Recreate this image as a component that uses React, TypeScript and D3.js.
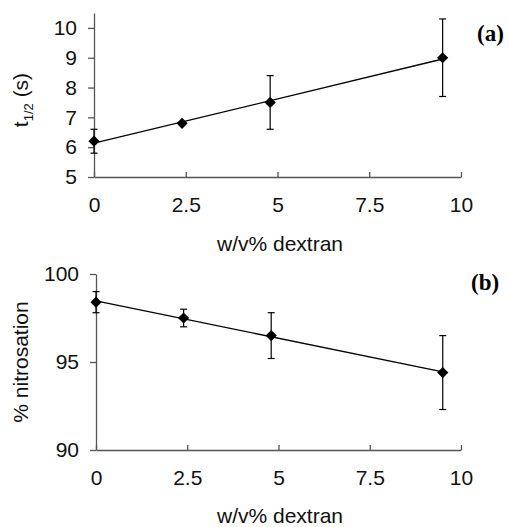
import React, { useEffect, useRef } from "react";
import * as d3 from "d3";

// dextran concentration (w/v %)
const dextran = [0, 2.4, 4.8, 9.5];

// panel (a) half-life
const halfLife = [6.2, 6.8, 7.5, 9.0];
const halfLifeErr = [0.4, 0, 0.9, 1.3];

// panel (b) nitrosation
const nitrosation = [98.4, 97.5, 96.5, 94.4];
const nitrosationErr = [0.6, 0.5, 1.3, 2.1];

const xTicks = [0, 2.5, 5, 7.5, 10];
const yTicksA = [5, 6, 7, 8, 9, 10];
const yTicksB = [90, 95, 100];

const App = () => {
  const ref = useRef<SVGSVGElement>(null);

  useEffect(() => {
    drawChart();
  }, []);

  const drawChart = () => {
    const svg = d3.select(ref.current);
    svg.selectAll("*").remove();

    const font = "Arial, 'Liberation Sans', sans-serif";
    const fs = 21;

    const panel = (opts: {
      xs: number[]; ys: number[]; errs: number[];
      yDomain: [number, number]; yTicks: number[];
      left: number; right: number; top: number; bottom: number;
      yLabel: (g: any) => void; tag: string; tagX: number; tagY: number; titleY: number;
    }) => {
      const x = d3.scaleLinear().domain([0, 10]).range([opts.left, opts.right]);
      const y = d3.scaleLinear().domain(opts.yDomain).range([opts.bottom, opts.top]);
      const g = svg.append("g");

      // axes
      const xa = g.append("g")
        .attr("transform", `translate(0,${opts.bottom})`)
        .call(d3.axisBottom(x).tickValues(xTicks).tickFormat(d3.format("")).tickSizeInner(-5).tickSizeOuter(0).tickPadding(20));
      xa.select(".domain").attr("stroke", "#555").attr("stroke-width", 1.3);
      xa.selectAll("line").attr("stroke", "#555").attr("stroke-width", 1.3);
      xa.selectAll("text").attr("font-size", fs).attr("font-family", font).attr("fill", "#111");

      const ya = g.append("g")
        .attr("transform", `translate(${opts.left},0)`)
        .call(d3.axisLeft(y).tickValues(opts.yTicks).tickFormat(d3.format("")).tickSizeInner(6).tickSizeOuter(0).tickPadding(11));
      ya.select(".domain").attr("stroke", "#555").attr("stroke-width", 1.3);
      ya.selectAll("line").attr("stroke", "#555").attr("stroke-width", 1.3);
      ya.selectAll("text").attr("font-size", fs).attr("font-family", font).attr("fill", "#111");

      // trend line (least squares)
      const mx = d3.mean(opts.xs)!;
      const my = d3.mean(opts.ys)!;
      const slope = d3.sum(opts.xs, (v, i) => (v - mx) * (opts.ys[i] - my)) /
        d3.sum(opts.xs, (v) => (v - mx) * (v - mx));
      const b = my - slope * mx;
      const ext = d3.extent(opts.xs) as [number, number];
      g.append("line")
        .attr("x1", x(ext[0])).attr("y1", y(b + slope * ext[0]))
        .attr("x2", x(ext[1])).attr("y2", y(b + slope * ext[1]))
        .attr("stroke", "#000").attr("stroke-width", 1.3);

      // error bars
      opts.xs.forEach((v, i) => {
        const e = opts.errs[i];
        if (!e) return;
        const cx = x(v);
        const y1 = y(opts.ys[i] + e);
        const y2 = y(opts.ys[i] - e);
        g.append("line").attr("x1", cx).attr("x2", cx).attr("y1", y1).attr("y2", y2)
          .attr("stroke", "#000").attr("stroke-width", 1.2);
        [y1, y2].forEach((yy) => {
          g.append("line").attr("x1", cx - 3.5).attr("x2", cx + 3.5).attr("y1", yy).attr("y2", yy)
            .attr("stroke", "#000").attr("stroke-width", 1.2);
        });
      });

      // diamonds
      g.selectAll("path.pt")
        .data(opts.xs)
        .enter()
        .append("path")
        .attr("class", "pt")
        .attr("d", d3.symbol().type(d3.symbolDiamond2).size(80))
        .attr("transform", (d, i) => `translate(${x(d)},${y(opts.ys[i])})`)
        .attr("fill", "#000");

      // x title
      g.append("text")
        .attr("x", 280)
        .attr("y", opts.titleY)
        .attr("text-anchor", "middle")
        .attr("font-size", fs).attr("font-family", font).attr("fill", "#111")
        .text("w/v% dextran");

      opts.yLabel(g);

      g.append("text")
        .attr("x", opts.tagX).attr("y", opts.tagY)
        .attr("font-size", 23).attr("font-weight", "bold")
        .attr("font-family", "'Liberation Serif', 'Times New Roman', serif")
        .text(opts.tag);
    };

    panel({
      xs: dextran, ys: halfLife, errs: halfLifeErr,
      yDomain: [5, 10.5], yTicks: yTicksA,
      left: 94, right: 461, top: 13, bottom: 177,
      tag: "(a)", tagX: 477, tagY: 41, titleY: 251,
      yLabel: (g) => {
        const t = g.append("text")
          .attr("transform", "translate(28,100) rotate(-90)")
          .attr("text-anchor", "middle")
          .attr("font-size", fs).attr("font-family", font).attr("fill", "#111");
        t.append("tspan").text("t");
        t.append("tspan").attr("font-size", 13).attr("dy", 5).text("1/2");
        t.append("tspan").attr("dy", -5).text(" (s)");
      },
    });

    panel({
      xs: dextran, ys: nitrosation, errs: nitrosationErr,
      yDomain: [90, 100], yTicks: yTicksB,
      left: 96, right: 461, top: 274, bottom: 450,
      tag: "(b)", tagX: 471, tagY: 290, titleY: 523,
      yLabel: (g) => {
        g.append("text")
          .attr("transform", "translate(28,362) rotate(-90)")
          .attr("text-anchor", "middle")
          .attr("font-size", fs).attr("font-family", font).attr("fill", "#111")
          .text("% nitrosation");
      },
    });
  };

  return (
    <div style={{ position: "fixed", left: 0, top: 0, width: 509, height: 527, overflow: "hidden", background: "#fff" }}>
      <svg ref={ref} width={509} height={527} style={{ display: "block" }} />
    </div>
  );
};

export default App;
